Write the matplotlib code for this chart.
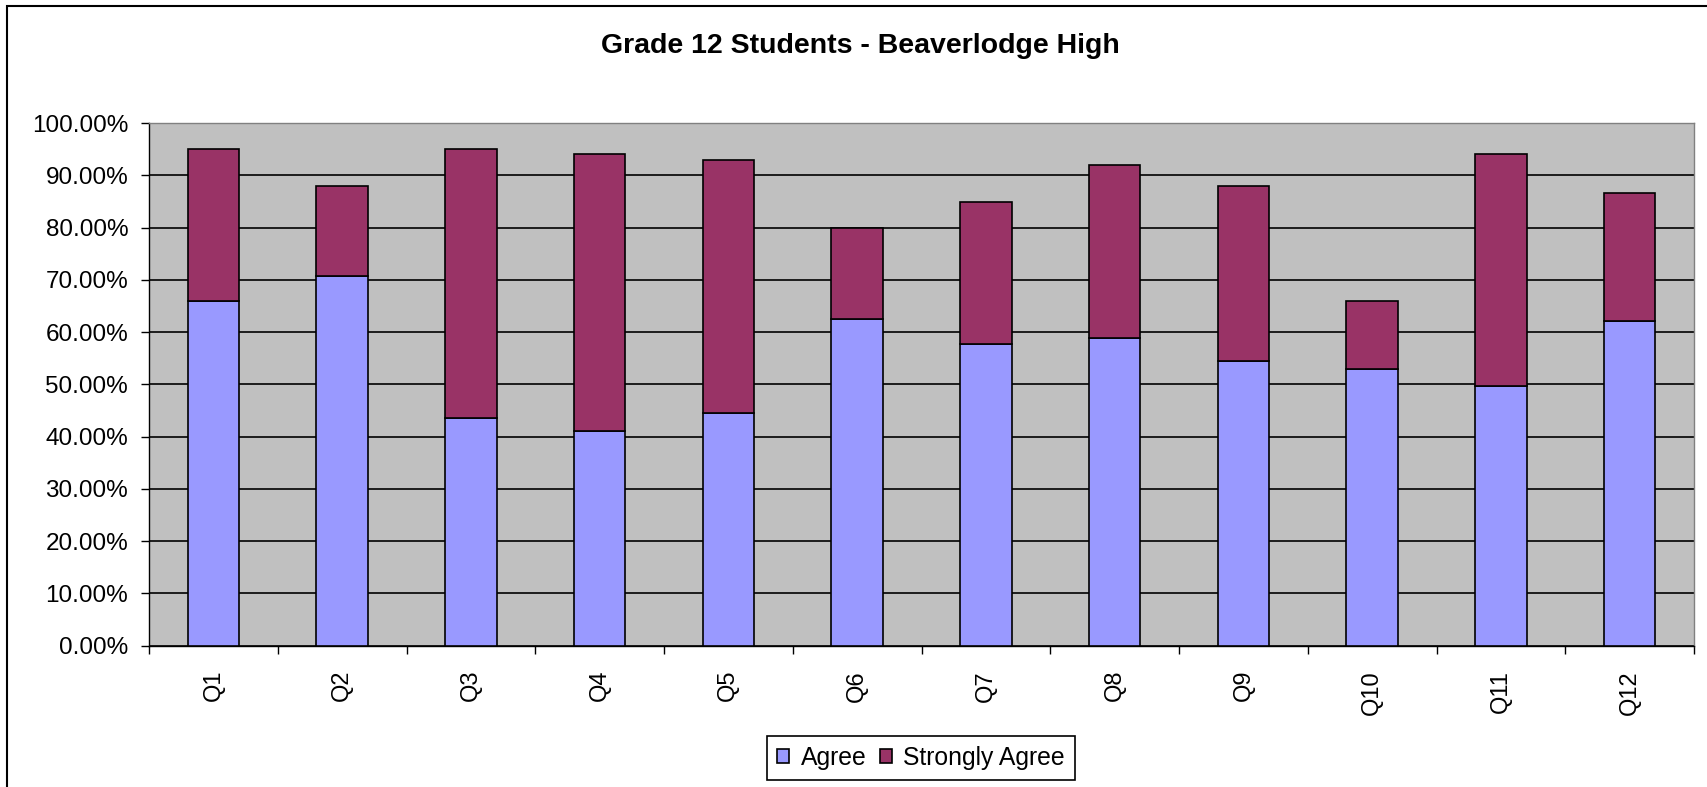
import matplotlib
matplotlib.use("Agg")
import matplotlib.pyplot as plt
from matplotlib.patches import Rectangle
from matplotlib.ticker import FuncFormatter, MultipleLocator, FixedLocator
import numpy as np

plt.rcParams['font.family'] = ['Liberation Sans', 'DejaVu Sans']

categories = ["Q1", "Q2", "Q3", "Q4", "Q5", "Q6", "Q7", "Q8", "Q9", "Q10", "Q11", "Q12"]
agree = [65.9, 70.8, 43.5, 41.1, 44.6, 62.5, 57.7, 58.9, 54.4, 53.0, 49.6, 62.2]
strongly_agree = [29.2, 17.2, 51.6, 52.9, 48.3, 17.4, 27.1, 33.0, 33.6, 13.0, 44.4, 24.5]
series_names = ["Agree", "Strongly Agree"]
title = "Grade 12 Students - Beaverlodge High"

W, H = 1707, 787
fig = plt.figure(figsize=(W / 100, H / 100), dpi=100)
fig.patch.set_facecolor("white")

left, right, top, bottom = 149, 1694, 123, 645.6
ax = fig.add_axes([left / W, 1 - bottom / H, (right - left) / W, (bottom - top) / H])
ax.set_facecolor("#C0C0C0")

x = np.arange(len(categories))
a = np.array(agree) / 100
s = np.array(strongly_agree) / 100
ax.bar(x, a, width=0.4, color="#9999FF", edgecolor="black", linewidth=1.2, label=series_names[0], zorder=3)
ax.bar(x, s, width=0.4, bottom=a, color="#993366", edgecolor="black", linewidth=1.2, label=series_names[1], zorder=3)

ax.set_xlim(-0.5, len(categories) - 0.5)
ax.set_ylim(0, 1.0)
ax.yaxis.set_major_locator(MultipleLocator(0.1))
ax.yaxis.set_major_formatter(FuncFormatter(lambda v, p: f"{v*100:.2f}%"))
ax.yaxis.grid(True, color="black", linewidth=1.2, zorder=1)
ax.set_axisbelow(True)

ax.set_xticks(x)
ax.set_xticklabels(categories, rotation=90, fontsize=17)
ax.tick_params(axis="x", which="major", length=0, pad=17.5)
ax.xaxis.set_minor_locator(FixedLocator(np.arange(-0.5, len(categories), 1.0)))
ax.tick_params(axis="x", which="minor", length=6, width=1, color="black", direction="out")
ax.tick_params(axis="y", length=6, width=1, color="black", direction="out", pad=9, labelsize=17.5)

for side in ("top", "right"):
    ax.spines[side].set_color("#808080")
    ax.spines[side].set_linewidth(1)
for side in ("left", "bottom"):
    ax.spines[side].set_color("black")
    ax.spines[side].set_linewidth(1)

fig.text(860 / W, 1 - 46 / H, title, ha="center", va="center", fontsize=20.5, fontweight="bold")

leg = fig.legend(loc="center", bbox_to_anchor=(921 / W, 1 - 758 / H), ncol=2, fontsize=17.8,
                 frameon=True, fancybox=False, edgecolor="black", framealpha=1,
                 handlelength=0.5, handleheight=0.5, handletextpad=0.45, columnspacing=0.55,
                 borderpad=0.4, borderaxespad=0)
leg.get_frame().set_linewidth(1.2)

frame = Rectangle((7 / W, -0.1), 1.2, 1.1 - 5.5 / H, transform=fig.transFigure,
                  fill=False, edgecolor="black", linewidth=1.5, zorder=0)
fig.patches.append(frame)

fig.savefig("out.png", dpi=100)
